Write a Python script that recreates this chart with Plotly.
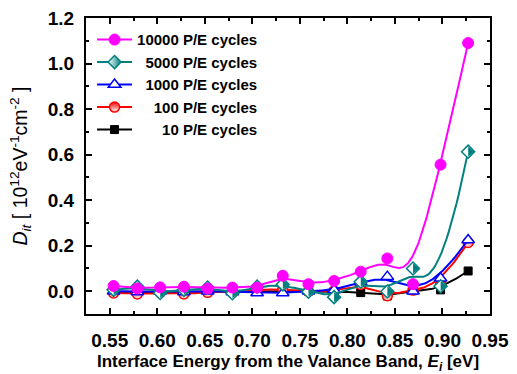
import numpy as np
import plotly.graph_objects as go

# ---- data ----
energy = [0.554, 0.579, 0.603, 0.628, 0.653, 0.679, 0.705, 0.732, 0.759, 0.786,
          0.814, 0.842, 0.869, 0.898, 0.927]
dit_10 = [-0.005, -0.003, 0.0, -0.003, -0.003, 0.0, 0.0, 0.0, 0.0, 0.0,
          -0.006, -0.021, 0.003, 0.006, 0.089]
dit_100 = [-0.008, -0.012, -0.005, -0.012, -0.005, -0.005, 0.008, 0.008, 0.0, 0.0,
           0.03, -0.02, 0.005, 0.03, 0.214]
dit_1000 = [0.0, -0.003, 0.0, -0.003, 0.0, -0.003, -0.008, -0.008, 0.0, 0.005,
            0.04, 0.064, 0.0, 0.057, 0.225]
dit_5000 = [0.006, 0.020, -0.008, 0.006, 0.016, -0.009, 0.020, 0.030, -0.002, -0.026,
            0.042, -0.001, 0.100, 0.022, 0.613]
dit_10000 = [0.023, 0.012, 0.017, 0.020, 0.012, 0.016, 0.016, 0.068, 0.031, 0.045,
             0.086, 0.144, 0.031, 0.556, 1.090]

labels = ["10 P/E cycles", "100 P/E cycles", "1000 P/E cycles",
          "5000 P/E cycles", "10000 P/E cycles"]
x_ticks = [0.55, 0.60, 0.65, 0.70, 0.75, 0.80, 0.85, 0.90, 0.95]
y_ticks = [0.0, 0.2, 0.4, 0.6, 0.8, 1.0, 1.2]

X_RANGE = [0.525, 0.95]
Y_RANGE = [-0.1, 1.2]
W, H = 517, 374
M = dict(l=86, r=27, t=18, b=60)


def bspline(xs, ys, n_out=400, k=3):
    """Clamped uniform cubic B-spline using the data points as control points."""
    P = np.column_stack([xs, ys]).astype(float)
    n = len(P)
    knots = np.concatenate([[0.0] * k, np.arange(n - k + 1, dtype=float), [float(n - k)] * k])
    ts = np.linspace(0, n - k, n_out)
    out = []
    for t in ts:
        s = int(np.searchsorted(knots, t, side="right") - 1)
        s = min(max(s, k), n - 1)
        d = [P[j + s - k].copy() for j in range(k + 1)]
        for r in range(1, k + 1):
            for j in range(k, r - 1, -1):
                i = j + s - k
                den = knots[i + k + 1 - r] - knots[i]
                a = 0.0 if den == 0 else (t - knots[i]) / den
                d[j] = (1 - a) * d[j - 1] + a * d[j]
        out.append(d[k])
    out = np.array(out)
    return out[:, 0], out[:, 1]


TEAL = "#008080"
styles = [
    dict(color="#000000", marker=dict(symbol="square", size=8, color="#000000",
                                      line=dict(color="#000000", width=1))),
    dict(color="#FF0000", marker=dict(symbol="circle", size=10, color="#FF0000",
                                      gradient=dict(type="vertical", color="#FFFFFF"),
                                      line=dict(color="#FF0000", width=1.5))),
    dict(color="#0000FF", marker=dict(symbol="triangle-up", size=11, color="#FFFFFF",
                                      line=dict(color="#0000FF", width=1.5))),
    dict(color=TEAL, marker=dict(symbol="diamond", size=10, color="#FFFFFF",
                                 line=dict(color=TEAL, width=1.5))),
    dict(color="#FF00FF", marker=dict(symbol="circle", size=11, color="#FF00FF",
                                      line=dict(color="#FF00FF", width=1))),
]
legend_markers = [s["marker"] for s in styles]
legend_markers[3] = dict(symbol="diamond", size=10, color="#FFFFFF",
                         gradient=dict(type="horizontal", color=TEAL),
                         line=dict(color=TEAL, width=1.5))
series = [dit_10, dit_100, dit_1000, dit_5000, dit_10000]
nb = "\u00a0"
pad = [nb * 6, nb * 4, nb * 2, nb * 2, ""]

# pixel -> data conversion for the half-filled diamond overlay
px_to_x = (X_RANGE[1] - X_RANGE[0]) / (W - M["l"] - M["r"])

fig = go.Figure()
for idx, (ys, st, lab, p) in enumerate(zip(series, styles, labels, pad)):
    bx, by = bspline(energy, ys)
    fig.add_trace(go.Scatter(x=bx, y=by, mode="lines", showlegend=False,
                             line=dict(color=st["color"], width=2), hoverinfo="skip"))
    fig.add_trace(go.Scatter(x=energy, y=ys, mode="markers", showlegend=False,
                             marker=st["marker"]))
    if idx == 3:
        # filled right half of the diamond
        fig.add_trace(go.Scatter(x=[e + 2.2 * px_to_x for e in energy], y=ys, mode="markers",
                                 showlegend=False, hoverinfo="skip",
                                 marker=dict(symbol="triangle-right", size=8.6, color=TEAL,
                                             line=dict(width=0))))
    fig.add_trace(go.Scatter(x=[None], y=[None], mode="lines+markers", name=p + lab,
                             line=dict(color=st["color"], width=2), marker=legend_markers[idx]))

axis_common = dict(showline=True, linecolor="black", linewidth=2, mirror="ticks",
                   ticks="inside", ticklen=6, tickwidth=1.5, tickcolor="black",
                   showgrid=False, zeroline=False, automargin=False,
                   tickfont=dict(family="Liberation Sans", size=19, color="black", weight="bold"))

fig.update_layout(
    width=W, height=H,
    margin=M,
    paper_bgcolor="white", plot_bgcolor="white",
    font=dict(family="Liberation Sans", color="black"),
    xaxis=dict(range=X_RANGE, tickvals=x_ticks, tickformat=".2f",
               minor=dict(dtick=0.025, ticks="inside", ticklen=3, tickwidth=1.5, tickcolor="black"),
               title=dict(text="Interface Energy from the Valance Band, <i>E<sub>i</sub></i> [eV]",
                          font=dict(size=17, weight="bold")),
               ticklabelstandoff=8,
               **axis_common),
    yaxis=dict(range=Y_RANGE, tickvals=y_ticks, tickformat=".1f",
               minor=dict(dtick=0.1, ticks="inside", ticklen=3, tickwidth=1.5, tickcolor="black"),
               title=dict(text="<i>D<sub>it</sub></i> [ 10<sup>12</sup>eV<sup>-1</sup>cm<sup>-2</sup> ]",
                          font=dict(size=19.5)),
               ticklabelstandoff=6,
               **axis_common),
    legend=dict(x=0.015, y=0.982, xanchor="left", yanchor="top", traceorder="reversed",
                bgcolor="rgba(0,0,0,0)", itemwidth=35,
                font=dict(family="Liberation Sans", size=15, weight="bold", color="black")),
)

fig.write_html("out.html", config={"displayModeBar": False},
               post_script="document.body.style.margin='0';document.body.style.overflow='hidden';")
